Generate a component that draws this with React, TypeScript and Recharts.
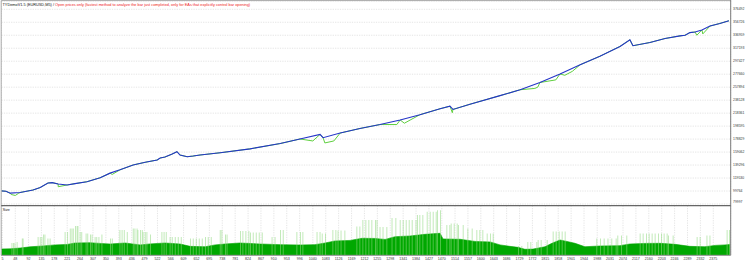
import React from 'react';
import { ComposedChart, Line, Area, Bar, XAxis, YAxis, CartesianGrid } from 'recharts';

const expertTitle = 'TYDemoV1.5 (EURUSD,M5)';
const modelText = 'Open prices only (fastest method to analyze the bar just completed, only for EAs that explicitly control bar opening)';
const sizeTitle = 'Size';

const xTicks = [5, 48, 92, 135, 178, 221, 264, 307, 350, 393, 436, 479, 522, 566, 609, 652, 695, 738, 781, 824, 867, 910, 953, 996, 1040, 1083, 1126, 1169, 1212, 1255, 1298, 1341, 1384, 1427, 1470, 1514, 1557, 1600, 1643, 1686, 1729, 1772, 1815, 1858, 1901, 1944, 1988, 2031, 2074, 2117, 2160, 2203, 2246, 2289, 2332, 2375];
const yTicks = [79997, 99764, 119530, 139296, 159062, 178829, 198595, 218361, 238128, 257894, 277660, 297427, 317193, 336959, 356726, 376492];

const balanceTrades = [0, 17, 31, 64, 107, 131, 157, 171, 191, 221, 247, 287, 331, 364, 397, 441, 481, 521, 531, 547, 571, 587, 597, 621, 641, 664, 731, 831, 931, 997, 1064, 1074, 1131, 1197, 1264, 1331, 1397, 1464, 1497, 1507, 1564, 1664, 1731, 1797, 1864, 1931, 1997, 2064, 2097, 2107, 2164, 2214, 2264, 2281, 2297, 2314, 2337, 2364, 2397, 2427];
const balanceValues = [100000, 99300, 96500, 97500, 101300, 105000, 112000, 112500, 110500, 109000, 111000, 114000, 120000, 127000, 132000, 139500, 143500, 147000, 150000, 151500, 156000, 159700, 154600, 152000, 153000, 154600, 158000, 164000, 172000, 179000, 186000, 181000, 188000, 195000, 201000, 208000, 216000, 225000, 229000, 224000, 232000, 245000, 254000, 265000, 278000, 292000, 305000, 320000, 330000, 321000, 326000, 332000, 336000, 337000, 341000, 342000, 345000, 351000, 355000, 359000];

const equityDipTrades = [34, 48, 58, 191, 371, 1040, 1080, 1110, 1320, 1345, 1505, 1780, 1790, 1850, 1880, 1905, 2320, 2340];
const equityDipValues = [94500, 93000, 96000, 106300, 125000, 176000, 173000, 176000, 201000, 203000, 219000, 256000, 258000, 269000, 276000, 282000, 337000, 339000];

const sizeBaseTrades = [0, 31, 64, 97, 141, 181, 221, 247, 297, 331, 364, 414, 464, 497, 547, 597, 631, 681, 714, 747, 797, 864, 931, 997, 1047, 1081, 1114, 1164, 1204, 1247, 1281, 1314, 1364, 1414, 1464, 1474, 1531, 1581, 1631, 1664, 1697, 1724, 1747, 1774, 1814, 1837, 1864, 1887, 1914, 1947, 1997, 2064, 2097, 2147, 2197, 2247, 2297, 2347, 2381, 2414, 2431];
const sizeBaseValues = [12.7, 13, 14.7, 17, 19, 21, 22, 24.8, 25.4, 24, 22.8, 24.8, 21, 23, 24.8, 22.8, 18, 17.3, 21, 22.8, 24.8, 22.8, 21.5, 20.8, 21.5, 24.8, 29, 30, 34.3, 34, 32, 37.5, 39, 42.3, 44.4, 33, 32.3, 28, 27, 21, 18, 16, 12.1, 12.5, 17.3, 24.2, 30.8, 28, 24.2, 17.3, 18.8, 19.5, 22.8, 24, 24.2, 22.2, 18, 17.3, 20, 21, 22];

const sizeSpikeTrades = [37, 43, 47, 54, 71, 74, 124, 131, 137, 143, 147, 157, 164, 214, 223, 231, 237, 241, 249, 254, 257, 264, 270, 284, 290, 299, 304, 314, 320, 327, 337, 366, 371, 397, 404, 411, 421, 441, 447, 454, 457, 466, 471, 474, 481, 487, 499, 537, 544, 551, 564, 571, 581, 591, 601, 633, 641, 651, 661, 671, 683, 691, 701, 731, 737, 749, 754, 799, 807, 817, 827, 833, 841, 851, 861, 871, 904, 914, 933, 941, 987, 999, 1007, 1054, 1064, 1071, 1083, 1107, 1117, 1124, 1134, 1147, 1187, 1197, 1207, 1217, 1227, 1237, 1249, 1254, 1264, 1274, 1287, 1304, 1317, 1331, 1341, 1351, 1361, 1371, 1384, 1389, 1397, 1407, 1421, 1431, 1441, 1451, 1456, 1466, 1487, 1497, 1501, 1511, 1521, 1526, 1541, 1557, 1571, 1587, 1597, 1607, 1621, 1633, 1641, 1726, 1737, 1757, 1767, 1787, 1791, 1801, 1821, 1841, 1851, 1861, 1871, 1881, 1987, 1999, 2011, 2024, 2037, 2051, 2057, 2069, 2087, 2131, 2141, 2153, 2161, 2171, 2181, 2193, 2203, 2211, 2221, 2226, 2241, 2321, 2331, 2354, 2364, 2421, 2429];
const sizeSpikeValues = [25, 25, 25, 27, 34, 34, 37, 37, 37, 42, 42, 34, 34, 47, 47, 54, 54, 54, 59, 59, 59, 47, 47, 44, 44, 42, 42, 37, 37, 37, 42, 34, 34, 51, 51, 51, 47, 54, 54, 54, 51, 51, 51, 47, 47, 47, 42, 47, 47, 47, 37, 37, 37, 37, 37, 34, 34, 34, 34, 34, 37, 37, 37, 51, 51, 42, 42, 49, 49, 49, 49, 46, 46, 46, 46, 46, 37, 37, 51, 51, 47, 47, 47, 47, 47, 44, 44, 51, 51, 50, 50, 50, 58, 58, 71, 71, 71, 71, 71, 71, 57, 57, 57, 75, 75, 71, 71, 71, 71, 71, 71, 81, 81, 81, 88, 88, 88, 88, 91, 91, 61, 61, 64, 64, 64, 61, 61, 54, 54, 51, 51, 51, 44, 44, 44, 19, 19, 27, 27, 27, 31, 31, 31, 48, 48, 48, 48, 48, 34, 34, 34, 34, 34, 34, 40, 40, 40, 44, 44, 44, 44, 44, 44, 44, 44, 44, 44, 40, 40, 37, 37, 40, 40, 51, 51];

const balanceData = balanceTrades.map((t, i) => ({ t, balance: balanceValues[i] }));
const equityData = [
  ...balanceTrades.map((t, i) => ({ t, equity: balanceValues[i] })),
  ...equityDipTrades.map((t, i) => ({ t, equity: equityDipValues[i] })),
].sort((a, b) => a.t - b.t);

const sizeMap = new Map<number, any>();
sizeBaseTrades.forEach((t, i) => sizeMap.set(t, { ...(sizeMap.get(t) || { t }), base: sizeBaseValues[i] }));
sizeSpikeTrades.forEach((t, i) => sizeMap.set(t, { ...(sizeMap.get(t) || { t }), spike: sizeSpikeValues[i] }));
const sizeData = Array.from(sizeMap.values()).sort((a, b) => a.t - b.t);

const W = 749;
const PLOT_LEFT = 1.5;
const PLOT_RIGHT = 730.7;
const MAIN_BOTTOM = 205.7;
const SIZE_BOTTOM = 255.3;
const X_DOMAIN: [number, number] = [2, 2433];
const Y_DOMAIN: [number, number] = [77410, 389131];
const FONT = '"Liberation Sans", Arial, sans-serif';

const YTick = (props: any) => {
  const { x, y, payload, index } = props;
  const shift = index === 0 ? -1.7 : 0;
  return (
    <text x={x + 2.3} y={y + shift} dominantBaseline="central" fontSize={3.4} fill="#333" fontFamily={FONT}>
      {payload.value}
    </text>
  );
};

const XTick = (props: any) => {
  const { x, y, payload } = props;
  return (
    <text x={x} y={y + 3.8} dominantBaseline="central" textAnchor="middle" fontSize={3.6} fill="#333" fontFamily={FONT}>
      {payload.value}
    </text>
  );
};

export default function App() {
  return (
    <div style={{ position: 'absolute', left: 0, top: 0, width: W, height: 263, background: '#fff', overflow: 'hidden' }}>
      <div style={{ position: 'absolute', left: 0, top: 0 }}>
        <ComposedChart
          width={W}
          height={206}
          data={balanceData}
          margin={{ top: 1, right: 0, bottom: 0.3, left: PLOT_LEFT }}
        >
          <CartesianGrid stroke="#d2d2d2" strokeDasharray="1.2 1.2" strokeWidth={0.6} />
          <XAxis
            type="number"
            dataKey="t"
            domain={X_DOMAIN}
            allowDataOverflow
            ticks={xTicks}
            tick={false}
            axisLine={false}
            tickLine={false}
            height={0}
          />
          <YAxis
            orientation="right"
            type="number"
            domain={Y_DOMAIN}
            allowDataOverflow
            ticks={yTicks}
            interval={0}
            width={W - PLOT_RIGHT}
            axisLine={false}
            tickLine={false}
            tickSize={0}
            tickMargin={0}
            tick={<YTick />}
          />
          <Line
            data={equityData}
            dataKey="equity"
            type="linear"
            stroke="#5fcf3f"
            strokeWidth={1}
            dot={false}
            isAnimationActive={false}
          />
          <Line
            dataKey="balance"
            type="linear"
            stroke="#2535c8"
            strokeWidth={1.1}
            dot={false}
            isAnimationActive={false}
          />
        </ComposedChart>
      </div>
      <div style={{ position: 'absolute', left: 0, top: 0 }}>
        <ComposedChart
          width={W}
          height={263}
          data={sizeData}
          margin={{ top: MAIN_BOTTOM, right: W - PLOT_RIGHT, bottom: 0, left: PLOT_LEFT }}
        >
          <CartesianGrid horizontal={false} stroke="#d2d2d2" strokeDasharray="1.2 1.2" strokeWidth={0.6} />
          <XAxis
            type="number"
            dataKey="t"
            domain={X_DOMAIN}
            allowDataOverflow
            ticks={xTicks}
            interval={0}
            height={263 - SIZE_BOTTOM}
            axisLine={false}
            tickLine={false}
            tickSize={0}
            tickMargin={0}
            tick={<XTick />}
          />
          <YAxis hide type="number" domain={[0, 100]} allowDataOverflow />
          <Bar dataKey="spike" fill="#8fd87f" barSize={1} isAnimationActive={false} />
          <Area
            dataKey="base"
            type="linear"
            connectNulls
            stroke="#00a400"
            strokeWidth={0.6}
            fill="#00a800"
            fillOpacity={1}
            isAnimationActive={false}
          />
        </ComposedChart>
      </div>
      <svg width={W} height={263} style={{ position: 'absolute', left: 0, top: 0, pointerEvents: 'none' }}>
        <line x1={1.2} y1={0.6} x2={PLOT_RIGHT} y2={0.6} stroke="#a8a8a8" strokeWidth={1} />
        <line x1={1.2} y1={0.6} x2={1.2} y2={SIZE_BOTTOM} stroke="#a8a8a8" strokeWidth={1} />
        <line x1={PLOT_RIGHT} y1={0} x2={PLOT_RIGHT} y2={SIZE_BOTTOM} stroke="#7a7a7a" strokeWidth={1} />
        <line x1={1.2} y1={MAIN_BOTTOM} x2={PLOT_RIGHT} y2={MAIN_BOTTOM} stroke="#666" strokeWidth={1.2} />
        <line x1={1.2} y1={SIZE_BOTTOM} x2={PLOT_RIGHT} y2={SIZE_BOTTOM} stroke="#8a8a8a" strokeWidth={1} />
        <text x={2.5} y={5} dominantBaseline="central" fontSize={3.85} fontFamily={FONT}>
          <tspan fill="#111">{expertTitle}</tspan>
          <tspan fill="#111">{' / '}</tspan>
          <tspan fill="#ee1c1c">{modelText}</tspan>
        </text>
        <text x={2.8} y={209.6} dominantBaseline="central" fontSize={3.6} fill="#111" fontFamily={FONT}>
          {sizeTitle}
        </text>
      </svg>
    </div>
  );
}
